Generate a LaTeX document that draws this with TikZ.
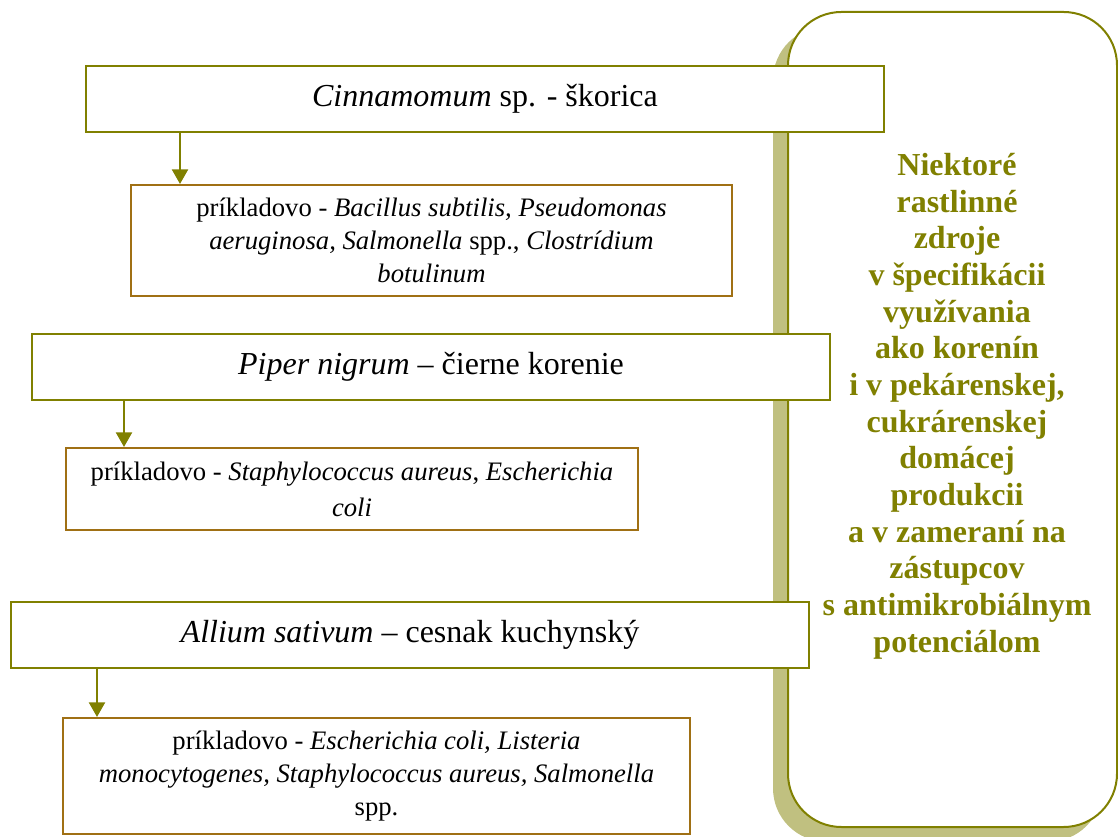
\documentclass[tikz,border=0pt]{standalone}
\usepackage{fontspec}
\setmainfont{Liberation Serif}
\usetikzlibrary{arrows.meta,calc,shadows}
\definecolor{olivec}{RGB}{128,128,0}
\definecolor{brownc}{RGB}{160,112,20}
\definecolor{shadowc}{RGB}{192,192,128}
\tikzset{
  head/.style={draw=olivec,line width=1.5pt,fill=white,anchor=north west,
    minimum width=598.5pt,minimum height=49.5pt,inner sep=0pt,
    font=\fontsize{24}{28}\selectfont},
  example/.style={draw=brownc,line width=1.5pt,fill=white,anchor=north west,
    inner sep=0pt,align=center,font=\fontsize{20}{24.75}\selectfont},
  arr/.style={olivec,line width=1.75pt,-{Triangle[width=12pt,length=11pt]}},
  panel/.style={draw=olivec,line width=1.5pt,fill=white,rounded corners=40pt,
    anchor=north west,inner sep=0pt,
    drop shadow={shadow xshift=-11.25pt,shadow yshift=-11pt,fill=shadowc,opacity=1}},
  sidetext/.style={text=olivec,align=center,
    font=\fontsize{24}{27.5}\selectfont\bfseries}
}
\begin{document}
\begin{tikzpicture}[x=0.75pt,y=-0.75pt]
  \useasboundingbox (0,0) rectangle (1118,837);
  % right panel
  \node[panel,minimum width=246.75pt,minimum height=611.25pt] (panel) at (787,11) {};
  \node[sidetext] (sideText) at (957,406) {Niektoré\\rastlinné\\zdroje\\v špecifikácii\\využívania\\ako korenín\\i v pekárenskej,\\cukrárenskej\\domácej\\produkcii\\a v zameraní na\\zástupcov\\s antimikrobiálnym\\potenciálom};
  % plants
  \node[head] (cinn) at (85,65) {\textit{Cinnamomum} sp. - škorica};
  \node[head] (piper) at (31,333) {\textit{Piper nigrum} – čierne korenie};
  \node[head] (allium) at (10,601) {\textit{Allium sativum} – cesnak kuchynský};
  % examples
  \node[example,minimum width=450.75pt,minimum height=83.25pt] (cinnEx) at (130,184)
    {príkladovo - \textit{Bacillus subtilis, Pseudomonas}\\
     \textit{aeruginosa, Salmonella} spp., \textit{Clostrídium}\\
     \textit{botulinum}};
  \node[example,minimum width=429pt,minimum height=61.5pt,
    font=\fontsize{20}{27}\selectfont] (piperEx) at (65,447)
    {príkladovo - \textit{Staphylococcus aureus}, \textit{Escherichia}\\
     \textit{coli}};
  \node[example,minimum width=470.25pt,minimum height=87pt] (alliumEx) at (62,717)
    {príkladovo - \textit{Escherichia coli, Listeria}\\
     \textit{monocytogenes, Staphylococcus aureus, Salmonella}\\
     spp.};
  % arrows
  \coordinate (a1) at ($(cinnEx.north west)+(50,0)$);
  \coordinate (a2) at ($(piperEx.north west)+(59,0)$);
  \coordinate (a3) at ($(alliumEx.north west)+(35,0)$);
  \draw[arr] (a1 |- cinn.south) -- (a1);
  \draw[arr] (a2 |- piper.south) -- (a2);
  \draw[arr] (a3 |- allium.south) -- (a3);
\end{tikzpicture}
\end{document}
